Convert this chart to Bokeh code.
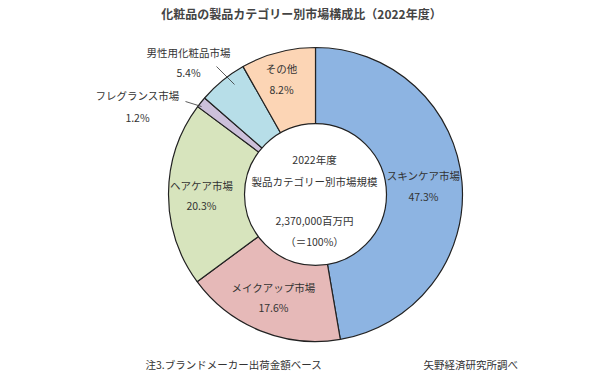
import numpy as np
from bokeh.plotting import figure
from bokeh.models import Range1d, ColumnDataSource
from bokeh.core.properties import value
from bokeh.embed import file_html
from bokeh.resources import INLINE

# ---- data ----
categories = ["スキンケア市場", "メイクアップ市場", "ヘアケア市場", "フレグランス市場", "男性用化粧品市場", "その他"]
shares = [47.3, 17.6, 20.3, 1.2, 5.4, 8.2]
colors = ["#8DB4E2", "#E6B9B8", "#D7E4BD", "#CCC0DA", "#B7DEE8", "#FCD5B5"]
title_text = "化粧品の製品カテゴリー別市場構成比（2022年度）"
center_lines = ["2022年度", "製品カテゴリー別市場規模", "2,370,000百万円", "（＝100%）"]
note_left = "注3.ブランドメーカー出荷金額ベース"
note_right = "矢野経済研究所調べ"

W, H = 600, 377
FONT = "Noto Sans CJK JP"
TXT = "#333333"

p = figure(width=W, height=H, output_backend="svg", toolbar_location=None,
           x_range=Range1d(0, W), y_range=Range1d(0, H), min_border=0)
p.axis.visible = False
p.grid.visible = False
p.outline_line_color = None
p.background_fill_color = "white"
p.border_fill_color = "white"

cx, cy = 315, H - 194
r_out, r_in = 147, 71

vals = np.array(shares) / sum(shares)
cum = np.concatenate([[0], np.cumsum(vals)])
start = np.pi / 2 - 2 * np.pi * cum[1:]
end = np.pi / 2 - 2 * np.pi * cum[:-1]
src = ColumnDataSource(dict(start=start, end=end, color=colors))
p.annular_wedge(x=cx, y=cy, inner_radius=r_in - 2, outer_radius=r_out,
                start_angle="start", end_angle="end", fill_color="color",
                line_color="#222222", line_width=1.2, source=src)
p.circle(x=[cx], y=[cy], radius=r_in, fill_color="white", line_color="#222222", line_width=1.2)

def t(x, y, s, size="10.5px", align="center", style="normal", color=TXT):
    p.text(x=[x], y=[H - y], text=[s], text_font=value(FONT), text_font_size=size,
           text_align=align, text_baseline="middle", text_color=color, text_font_style=style)

t(301, 13, title_text, size="12px", style="bold", color="#444444")

# label positions (pixel coords, top-left origin)
label_pos = [(423, 175, 196), (273, 287, 307), (201, 185, 205), (137, 95, 117), (188, 52, 72), (281, 68, 89)]
for (lx, ly1, ly2), name, sh in zip(label_pos, categories, shares):
    t(lx, ly1, name)
    t(lx, ly2, f"{sh:.1f}%")

# leader lines
p.line(x=[185, 201], y=[H - 101, H - 106], line_color="#333333", line_width=0.8)
p.line(x=[216, 234], y=[H - 66, H - 84], line_color="#333333", line_width=0.8)

for s, yy in zip(center_lines, [159, 181, 220, 241]):
    t(314, yy, s)

t(145, 364, note_left, align="left")
t(423, 364, note_right, align="left")

open("out.html", "w").write(file_html(p, INLINE))
